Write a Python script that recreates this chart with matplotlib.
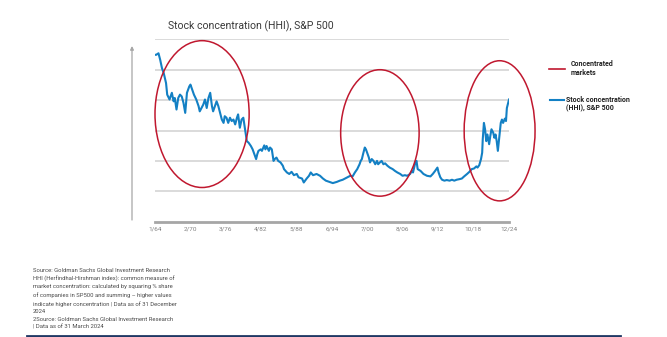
import matplotlib.pyplot as plt
from matplotlib.patches import Ellipse
from matplotlib.lines import Line2D

# ── DATA ──────────────────────────────────────────────────────────────────────

# S&P 500 stock concentration (HHI), relative units, by decimal year
YEARS = [
    1964.0, 1964.2, 1964.6, 1964.9, 1965.2, 1965.5, 1965.9, 1966.1, 1966.5, 1966.9,
    1967.2, 1967.4, 1967.7, 1968.0, 1968.3, 1968.6, 1968.9, 1969.2, 1969.5, 1969.9,
    1970.1, 1970.4, 1970.7, 1971.1, 1971.5, 1971.7, 1972.0, 1972.3, 1972.6, 1972.9,
    1973.2, 1973.5, 1973.8, 1974.0, 1974.3, 1974.6, 1974.9, 1975.2, 1975.5, 1975.8,
    1976.0, 1976.3, 1976.6, 1976.9, 1977.2, 1977.5, 1977.8, 1978.1, 1978.3, 1978.6,
    1978.9, 1979.2, 1979.5, 1979.8, 1980.1, 1980.5, 1980.8, 1981.0, 1981.4, 1981.6,
    1981.8, 1982.2, 1982.4, 1982.8, 1983.0, 1983.2, 1983.6, 1983.8, 1984.1, 1984.4,
    1984.6, 1984.9, 1985.2, 1985.6, 1986.0, 1986.2, 1986.7, 1987.1, 1987.5, 1987.9,
    1988.4, 1988.7, 1989.3, 1989.6, 1990.1, 1990.5, 1990.8, 1991.2, 1991.8, 1992.4,
    1992.9, 1993.4, 1994.0, 1994.6, 1995.3, 1995.8, 1996.3, 1996.7, 1997.1, 1997.6,
    1998.0, 1998.4, 1998.8, 1999.2, 1999.4, 1999.6, 1999.8, 2000.1, 2000.3, 2000.5,
    2000.8, 2001.0, 2001.3, 2001.6, 2001.9, 2002.2, 2002.4, 2002.7, 2003.0, 2003.3,
    2003.6, 2004.0, 2004.4, 2004.9, 2005.3, 2005.7, 2006.2, 2006.6, 2007.0, 2007.4,
    2007.9, 2008.2, 2008.4, 2008.6, 2008.8, 2009.0, 2009.2, 2009.7, 2010.2, 2010.8,
    2011.4, 2011.8, 2012.2, 2012.6, 2012.8, 2013.1, 2013.4, 2013.8, 2014.2, 2014.7,
    2015.1, 2015.5, 2015.9, 2016.4, 2016.8, 2017.2, 2017.7, 2018.1, 2018.5, 2018.9,
    2019.3, 2019.5, 2019.8, 2020.1, 2020.3, 2020.4, 2020.6, 2020.8, 2021.0, 2021.2,
    2021.5, 2021.7, 2021.9, 2022.2, 2022.4, 2022.6, 2022.8, 2023.0, 2023.3, 2023.5,
    2023.7, 2023.9, 2024.2, 2024.4, 2024.55, 2024.7, 2024.92,
]
HHI = [
    5.49, 5.49, 5.54, 5.32, 5.05, 4.89, 4.56, 4.18, 4.02, 4.24,
    3.96, 4.07, 3.69, 4.07, 4.18, 4.12, 3.91, 3.58, 4.24, 4.45,
    4.51, 4.34, 4.18, 4.02, 3.80, 3.63, 3.74, 3.85, 4.02, 3.74,
    4.07, 4.24, 3.80, 3.63, 3.80, 3.96, 3.80, 3.58, 3.36, 3.25,
    3.47, 3.42, 3.25, 3.42, 3.31, 3.36, 3.20, 3.42, 3.53, 3.09,
    3.36, 3.42, 3.04, 2.65, 2.60, 2.49, 2.38, 2.27, 2.06, 2.22,
    2.33, 2.38, 2.33, 2.51, 2.38, 2.49, 2.33, 2.44, 2.38, 2.00,
    2.06, 2.11, 2.00, 1.95, 1.84, 1.73, 1.62, 1.57, 1.64, 1.53,
    1.57, 1.46, 1.42, 1.29, 1.42, 1.51, 1.62, 1.53, 1.57, 1.51,
    1.42, 1.35, 1.31, 1.27, 1.31, 1.35, 1.38, 1.42, 1.46, 1.51,
    1.49, 1.62, 1.73, 1.89, 2.00, 2.06, 2.22, 2.44, 2.38, 2.27,
    2.11, 1.95, 2.06, 2.00, 1.89, 2.00, 1.89, 1.95, 2.00, 1.89,
    1.92, 1.84, 1.78, 1.73, 1.67, 1.62, 1.57, 1.51, 1.53, 1.51,
    1.57, 1.67, 1.62, 1.78, 1.95, 2.00, 1.73, 1.67, 1.57, 1.51,
    1.49, 1.57, 1.67, 1.78, 1.62, 1.46, 1.38, 1.35, 1.37, 1.35,
    1.38, 1.35, 1.38, 1.40, 1.42, 1.49, 1.57, 1.64, 1.73, 1.75,
    1.82, 1.78, 1.86, 2.06, 2.27, 2.71, 3.25, 3.04, 2.65, 2.87,
    2.55, 2.82, 3.04, 2.93, 2.76, 2.87, 2.65, 2.33, 2.87, 3.25,
    3.36, 3.25, 3.39, 3.31, 3.74, 3.85, 4.02,
]

# x-axis labels (month/yy) and their decimal-year positions
TICK_LABELS = ["1/64", "2/70", "3/76", "4/82", "5/88", "6/94",
               "7/00", "8/06", "9/12", "10/18", "12/24"]
TICK_YEARS = [1964 + (int(m) - 1) / 12 + (int(y) + 100 * (int(y) < 50) - 64)
              for m, y in (t.split("/") for t in TICK_LABELS)]

# circled periods of high concentration: (centre year, centre level, span years, span level)
CONCENTRATED = [
    (1972.1, 3.54, 16.2, 4.83),
    (2002.7, 2.92, 13.5, 4.16),
    (2023.3, 2.99, 12.2, 4.61),
]

FOOTNOTE = (
    "Source: Goldman Sachs Global Investment Research\n"
    "HHI (Herfindhal-Hirshman index): common measure of\n"
    "market concentration: calculated by squaring % share\n"
    "of companies in SP500 and summing – higher values\n"
    "indicate higher concentration | Data as of 31 December\n"
    "2024\n"
    "2Source: Goldman Sachs Global Investment Research\n"
    "| Data as of 31 March 2024"
)

BLUE = "#1380c4"
RED = "#c0182f"

plt.rcParams["font.family"] = ["Roboto", "DejaVu Sans"]

# ── FIGURE ────────────────────────────────────────────────────────────────────

W, H = 667, 337
fig = plt.figure(figsize=(W / 100, H / 100), dpi=100)
ax = fig.add_axes([155 / W, 1 - 221.7 / H, 354 / W, (221.7 - 39.3) / H])


def px(x, y):
    return x / W, 1 - y / H


ax.plot(YEARS, HHI, color=BLUE, linewidth=1.5, solid_joinstyle="round", zorder=3)

for cx, cy, w, h in CONCENTRATED:
    ax.add_patch(Ellipse((cx, cy), w, h, fill=False, edgecolor=RED,
                         linewidth=1.1, clip_on=False, zorder=4))

ax.set_xlim(TICK_YEARS[0], TICK_YEARS[-1])
ax.set_ylim(0, 6)
ax.set_yticks([1, 2, 3, 4, 5, 6])
ax.yaxis.grid(True, color="#dadada", linewidth=1.4)
ax.set_axisbelow(True)
ax.tick_params(axis="y", left=False, labelleft=False)

ax.set_xticks(TICK_YEARS)
ax.set_xticklabels(TICK_LABELS, fontsize=4.6, color="#808080")
ax.tick_params(axis="x", length=0, pad=3.5)

for side in ["top", "right", "left"]:
    ax.spines[side].set_visible(False)
ax.spines["bottom"].set_color("#a6a6a6")
ax.spines["bottom"].set_linewidth(2)

# vertical arrow standing in for the unlabeled y-axis
fig.add_artist(plt.Annotation(
    "", xy=px(132, 46), xytext=px(132, 220),
    xycoords="figure fraction", textcoords="figure fraction",
    arrowprops=dict(arrowstyle="-|>", color="#a6a6a6", lw=0.9,
                    mutation_scale=5, shrinkA=0, shrinkB=0),
))

fig.text(*px(167.5, 26.7), "Stock concentration (HHI), S&P 500",
         fontsize=7.6, color="#3a3a3a", va="center", ha="left")

# hand-drawn legend on the right
fig.add_artist(Line2D([549 / W, 565 / W], [1 - 68.5 / H] * 2, color=RED, lw=1.2))
fig.text(*px(571, 68.8), "Concentrated\nmarkets", fontsize=5, color="#222222",
         va="center", ha="left", linespacing=1.15, fontweight="bold")
fig.add_artist(Line2D([550 / W, 564 / W], [1 - 100 / H] * 2, color=BLUE, lw=1.5))
fig.text(*px(566.5, 104.2), "Stock concentration\n(HHI), S&P 500", fontsize=5,
         color="#222222", va="center", ha="left", linespacing=1.15, fontweight="bold")

fig.text(*px(33, 268), FOOTNOTE, fontsize=4.2, color="#4a4a4a",
         va="top", ha="left", linespacing=1.62)

fig.add_artist(Line2D([27 / W, 620 / W], [1 - 336 / H] * 2, color="#1f3864", lw=2))

fig.savefig("out.png", dpi=100)
